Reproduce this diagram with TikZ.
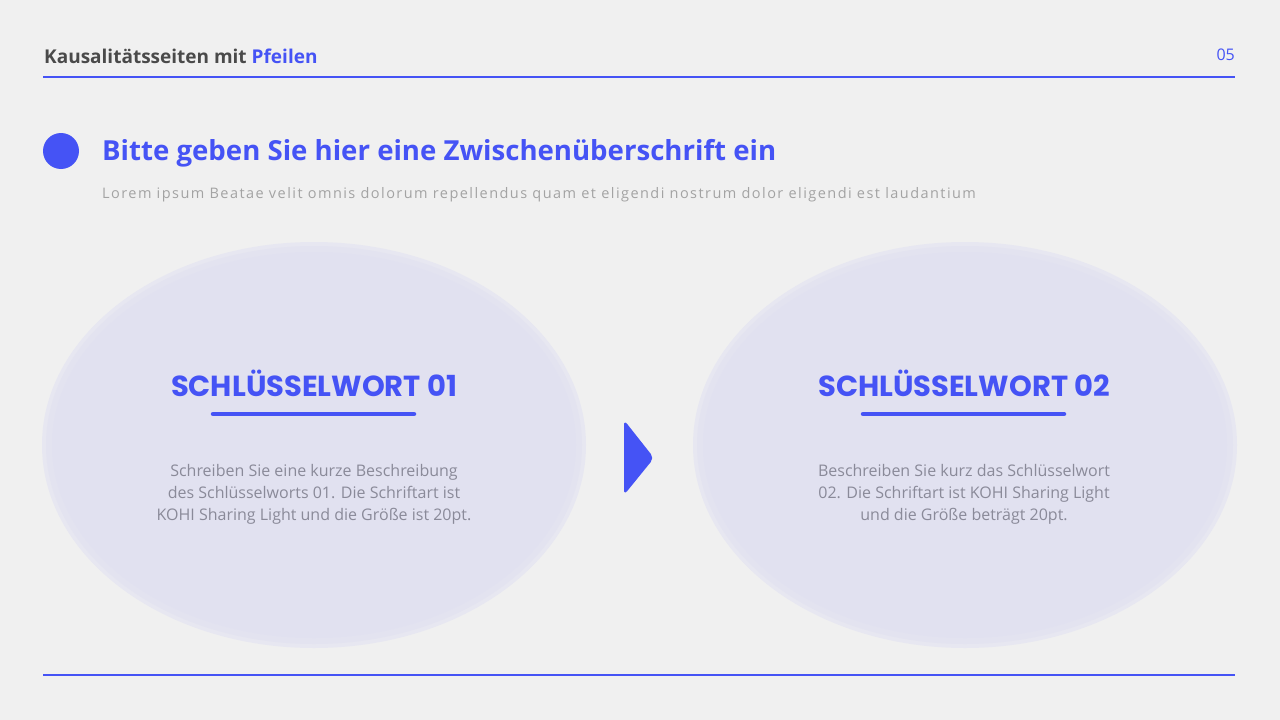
\documentclass[tikz,border=0pt]{standalone}
\usepackage{fontspec}
\setmainfont{Open Sans}
\newfontfamily\headfont{Poppins}
\newfontfamily\bodyfont{Open Sans}
\definecolor{bg}{HTML}{F0F0F0}
\definecolor{acc}{HTML}{4553F5}
\definecolor{dark}{HTML}{4A4A4A}
\definecolor{lgray}{HTML}{A3A3A3}
\definecolor{bgray}{HTML}{8A8A99}
\definecolor{ell}{HTML}{E1E1F0}
\definecolor{ellout}{HTML}{E7E7F1}
\tikzset{
  rule/.style={draw=acc, line width=1.6pt},
  keyword/.style={font=\headfont\fontsize{29}{34}\selectfont\bfseries, text=acc, inner sep=0pt},
  bar/.style={draw=acc, line width=4.5pt, line cap=round},
  desc/.style={font=\bodyfont\fontsize{16}{22}\selectfont, text=bgray, align=center, inner sep=0pt},
}
\begin{document}
\begin{tikzpicture}[x=1pt,y=-1pt]
\useasboundingbox (0,0) rectangle (1280,720);
\fill[bg] (0,0) rectangle (1280,720);
% header
\node[anchor=base west, inner sep=0pt, font=\fontsize{19}{22}\selectfont\bfseries, text=dark] (title) at (44,63) {Kausalitätsseiten mit \textcolor{acc}{Pfeilen}};
\node[anchor=base east, inner sep=0pt, font=\fontsize{16}{20}\selectfont, text=acc] (pnum) at (1235,60) {05};
\coordinate (hl) at (43,77); \coordinate (hr) at (1235,77);
\draw[rule] (hl) -- (hr);
\coordinate (fl) at (43,675); \coordinate (fr) at (1235,675);
\draw[rule] (fl) -- (fr);
% subheading
\node[circle, fill=acc, minimum size=36pt, inner sep=0pt] (dot) at (61,151) {};
\node[anchor=base west, inner sep=0pt, font=\fontsize{27.6}{32}\selectfont\bfseries, text=acc] (sub) at (102,160) {Bitte geben Sie hier eine Zwischenüberschrift ein};
\node[anchor=base west, inner sep=0pt, font=\fontsize{14.5}{18}\selectfont\addfontfeatures{LetterSpace=10}, text=lgray] (lorem) at (102,198) {Lorem ipsum Beatae velit omnis dolorum repellendus quam et eligendi nostrum dolor eligendi est laudantium};
% ellipses
\foreach \cx in {314,965}{
  \fill[ellout] (\cx,445) ellipse [x radius=272, y radius=203];
  \fill[ell!70!ellout] (\cx,445) ellipse [x radius=268, y radius=199];
  \fill[ell] (\cx,445) ellipse [x radius=262, y radius=193];
}
% keyword 1
\node[keyword, anchor=base] (k1) at (314,396) {SCHLÜSSELWORT 01};
\coordinate (b1l) at (213,414); \coordinate (b1r) at (414,414);
\draw[bar] (b1l) -- (b1r);
\node[desc] (d1) at (314,494) {Schreiben Sie eine kurze Beschreibung\\des Schlüsselworts 01. Die Schriftart ist\\KOHI Sharing Light und die Größe ist 20pt.};
% keyword 2
\node[keyword, anchor=base] (k2) at (964,396) {SCHLÜSSELWORT 02};
\coordinate (b2l) at (863,414); \coordinate (b2r) at (1064,414);
\draw[bar] (b2l) -- (b2r);
\node[desc] (d2) at (964,494) {Beschreiben Sie kurz das Schlüsselwort\\02. Die Schriftart ist KOHI Sharing Light\\und die Größe beträgt 20pt.};
% arrow
\fill[acc, rounded corners=5pt] (624,420) -- (654,458) -- (624,495) -- cycle;
\end{tikzpicture}
\end{document}
